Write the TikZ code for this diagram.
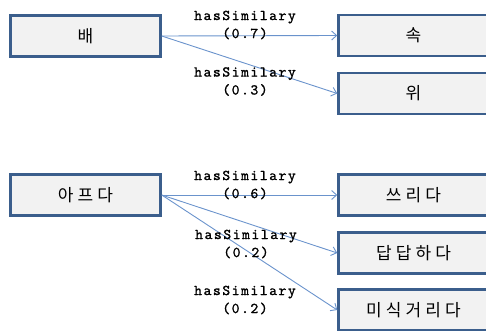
\documentclass[tikz,border=0pt]{standalone}
\usepackage{fontspec}
\newfontfamily\kofont[LetterSpace=24]{Noto Sans CJK KR}
\newfontfamily\lblfont[LetterSpace=10,FakeBold=1.2]{lmmono10-regular.otf}
\usetikzlibrary{arrows.meta}
\definecolor{boxborder}{HTML}{3B5E8C}
\definecolor{boxfill}{HTML}{F2F2F2}
\definecolor{linkcol}{HTML}{6A93CC}
\begin{document}
\begin{tikzpicture}[x=1pt,y=-1pt,
  wordbox/.style={draw=boxborder, line width=2.5pt, fill=boxfill,
    minimum width=150pt, minimum height=41pt, inner sep=0pt,
    font=\kofont\fontsize{17}{20}\selectfont},
  link/.style={draw=linkcol, line width=0.9pt,
    -{Straight Barb[length=5pt,width=9pt]}},
  lbl/.style={align=center, inner sep=0pt,
    font=\lblfont\fontsize{15}{18}\selectfont}]
\useasboundingbox (0,0) rectangle (486,331);
\clip (0,0) rectangle (486,331);
% boxes
\node[wordbox] (bae) at (85.5,36) {배};
\node[wordbox] (sok) at (413.5,35.5) {속};
\node[wordbox] (wi) at (413.5,93.5) {위};
\node[wordbox] (apeuda) at (85.5,195) {아프다};
\node[wordbox] (sseurida) at (413.5,195) {쓰리다};
\node[wordbox] (dapdap) at (413.5,253) {답답하다};
\node[wordbox] (misik) at (413.5,310) {미식거리다};
% connectors
\draw[link] (bae.east) -- (sok.west);
\draw[link] (bae.east) -- (wi.west);
\draw[link] (apeuda.east) -- (sseurida.west);
\draw[link] (apeuda.east) -- (dapdap.west);
\draw[link] (apeuda.east) -- (misik.west);
% labels
\node[lbl] (l1) at (245,25) {hasSimilary\\(0.7)};
\node[lbl] (l2) at (245,81.5) {hasSimilary\\(0.3)};
\node[lbl] (l3) at (245,185) {hasSimilary\\(0.6)};
\node[lbl] (l4) at (246,244) {hasSimilary\\(0.2)};
\node[lbl] (l5) at (245,300) {hasSimilary\\(0.2)};
\end{tikzpicture}
\end{document}
